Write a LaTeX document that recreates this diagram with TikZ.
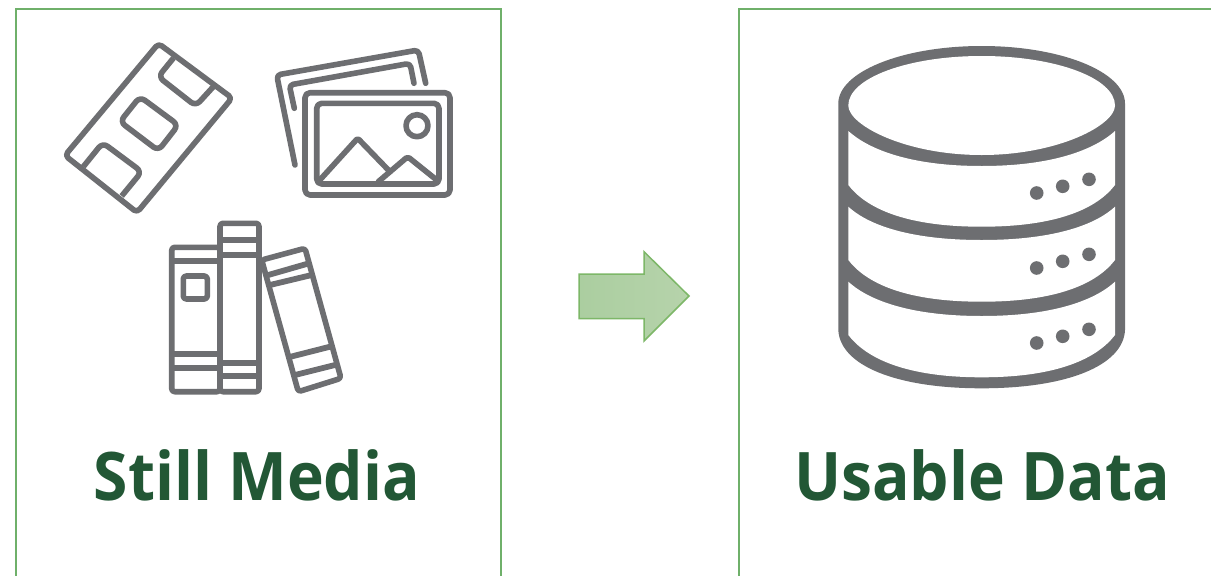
\documentclass[tikz,border=0pt]{standalone}
\usepackage{fontspec}
\setmainfont{Open Sans}
\definecolor{icongray}{HTML}{6D6E71}
\definecolor{framegreen}{HTML}{6FB06A}
\definecolor{titlegreen}{HTML}{225735}
\definecolor{arrowedge}{HTML}{7DB768}
\definecolor{arrowa}{HTML}{ABCEA0}
\definecolor{arrowb}{HTML}{B6D3AB}
\tikzset{
  x=1pt,y=-1pt,
  frameline/.style={draw=framegreen,line width=1.2pt},
  title/.style={font=\fontsize{67}{70}\selectfont\bfseries,text=titlegreen,inner sep=0pt,anchor=base,xscale=0.93,transform shape},
  iconline/.style={draw=icongray,line width=5.6pt,line join=round,line cap=round,rounded corners=4pt},
  bookline/.style={draw=icongray,line width=5.8pt,line join=round,line cap=butt},
  dbbody/.style={fill=icongray,draw=none},
  dbhole/.style={fill=white,draw=none},
  dot/.style={fill=icongray,draw=none},
}
\begin{document}
\begin{tikzpicture}
\useasboundingbox (0,0) rectangle (1211,576);
\fill[white] (0,0) rectangle (1211,576);
% frames
\path[frameline] (16,590) -- (16,9) -- (501,9) -- (501,590);
\path[frameline] (1225,9) -- (739,9) -- (739,590);
% film card
\path[iconline] (158.5,43.5) -- (232,98) -- (137,212.5) -- (65,155.5) -- cycle;
\path[iconline,rounded corners=6pt,line cap=butt] (173.5,58) -- (158.3,76.7) -- (195.7,106) -- (213.3,86.7);
\path[iconline,rounded corners=6pt] (140,96.7) -- (178.3,125) -- (158.3,150.7) -- (120,121.7) -- cycle;
\path[iconline,rounded corners=6pt,line cap=butt] (83.3,166.7) -- (102.7,142.7) -- (141.7,171.7) -- (121.7,196);
% photos
\path[iconline] (295,165) -- (276.7,75) -- (418.3,50) -- (425.7,83.3);
\path[iconline] (294.3,108.3) -- (289.3,85) -- (410,63.3) -- (414,83.3);
\path[iconline,rounded corners=5pt] (305,92.7) rectangle (450,195);
\path[iconline,rounded corners=5pt] (316.7,103.3) rectangle (439,184);
\path[iconline,rounded corners=0pt] (417,125.7) circle[radius=11];
\path[iconline,rounded corners=2pt] (318.3,181.7) -- (357.7,138.3) -- (390,171.7);
\path[iconline,rounded corners=2pt] (378.3,181.7) -- (407.7,156.7) -- (436.7,180);
% books
\path[iconline,rounded corners=3pt] (171.7,247.3) rectangle (220,391.7);
\path[iconline,rounded corners=3pt] (220,223.3) rectangle (259,391.7);
\path[iconline,rounded corners=3pt] (183.3,276) rectangle (207.3,299);
\foreach \y in {260.7,354.3,368.3} \path[bookline] (171.7,\y) -- (220,\y);
\foreach \y in {240,255,363.3,375.7} \path[bookline] (220,\y) -- (259,\y);
\path[iconline,rounded corners=3pt] (261.7,260) -- (305,248.3) -- (341,378.3) -- (298.3,391.7) -- cycle;
\path[bookline] (268.3,275) -- (309,263.3);
\path[bookline] (270,285) -- (311.7,275);
\path[bookline] (290.7,356.7) -- (330,346.7);
\path[bookline] (295,375) -- (335,365);
% arrow
\path[left color=arrowa,right color=arrowb,draw=arrowedge,line width=1.5pt,miter limit=10]
  (579,274) -- (644,274) -- (644,251.7) -- (689,296) -- (644,341) -- (644,318.7) -- (579,318.7) -- cycle;
% database: grey body with white openings
\path[dbbody] (838.3,103.5) .. controls (838.3,72) and (902,46) .. (981.7,46)
  .. controls (1061.4,46) and (1125,72) .. (1125,103.5)
  -- (1125,330) .. controls (1123.4,365) and (1068.4,388.3) .. (981.7,388.3)
  .. controls (895,388.3) and (840,365) .. (838.3,330) -- cycle;
\path[dbhole] (848.3,105.5) .. controls (848.3,78) and (908,56) .. (981.7,56)
  .. controls (1055.4,56) and (1115,78) .. (1115,105.5)
  .. controls (1115,125) and (1058.4,155) .. (981.7,155)
  .. controls (905,155) and (848.3,125) .. (848.3,105.5) -- cycle;
\foreach \a/\ac/\b/\c/\cc/\d in {131/147/166/185/208/226.7,206.7/223/240/260/283/301.7,281.7/298/316/335/358/377.3}
  \path[dbhole] (848.3,\a) .. controls (866,\ac) and (905,\b) .. (981.7,\b)
    .. controls (1058.4,\b) and (1097.4,\ac) .. (1115,\a) -- (1115,\c)
    .. controls (1097.4,\cc) and (1058.4,\d) .. (981.7,\d)
    .. controls (905,\d) and (866,\cc) .. (848.3,\c) -- cycle;
\foreach \d in {0,75,150} {
  \path[dot] (1036.7,193+\d) circle[radius=6.8];
  \path[dot] (1062.7,186.3+\d) circle[radius=6.8];
  \path[dot] (1089,179.3+\d) circle[radius=6.8];
}
% titles
\node[title] (still) at (257,500) {Still Media};
\node[title] (usable) at (982,500) {Usable Data};
\end{tikzpicture}
\end{document}
